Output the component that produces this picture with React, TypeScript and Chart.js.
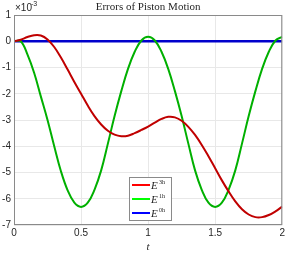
import React, { useEffect, useRef } from "react";
import { Chart, registerables } from "chart.js";

Chart.register(...registerables);

const tValues = [
  0, 0.05, 0.1, 0.15, 0.2, 0.25, 0.3, 0.35, 0.4, 0.45, 0.5,
  0.55, 0.6, 0.65, 0.7, 0.75, 0.8, 0.85, 0.9, 0.95, 1.0,
  1.05, 1.1, 1.15, 1.2, 1.25, 1.3, 1.35, 1.4, 1.45, 1.5,
  1.55, 1.6, 1.65, 1.7, 1.75, 1.8, 1.85, 1.9, 1.95, 2.0,
];

const redValues = [
  0, 0.06, 0.16, 0.23, 0.22, 0.07, -0.22, -0.62, -1.08, -1.55, -2.0,
  -2.45, -2.85, -3.17, -3.41, -3.56, -3.62, -3.6, -3.5, -3.38, -3.25,
  -3.1, -2.96, -2.88, -2.9, -3.03, -3.26, -3.57, -3.95, -4.38, -4.84,
  -5.3, -5.72, -6.1, -6.4, -6.6, -6.7, -6.7, -6.62, -6.48, -6.3,
];

const greenValues = [
  0, 0, -0.5, -1.2, -2.1, -3.0, -4.0, -4.95, -5.68, -6.15, -6.31,
  -6.15, -5.66, -4.92, -3.9, -2.85, -1.9, -1.05, -0.4, 0.03, 0.17,
  0.03, -0.4, -1.05, -1.9, -2.85, -3.9, -4.92, -5.66, -6.15, -6.31,
  -6.15, -5.66, -4.92, -3.9, -2.85, -1.9, -1.05, -0.4, 0.03, 0.17,
];

const blueValues = tValues.map(() => 0);

const seriesLabels = ["3h", "1h", "0h"];
const xTicks = [0, 0.5, 1, 1.5, 2];
const yTicks = [1, 0, -1, -2, -3, -4, -5, -6, -7];

const lineColors = ["#c00000", "#00b000", "#0000cc"];
const legendColors = ["#ff0000", "#00ff00", "#0000ff"];

export default function App() {
  const ref = useRef<HTMLCanvasElement | null>(null);

  useEffect(() => {
    document.body.style.margin = "0";
    const canvas = ref.current;
    if (!canvas) return;

    const mk = (vals: number[]) => tValues.map((t, i) => ({ x: t, y: vals[i] }));

    const decorPlugin = {
      id: "decor",
      afterDraw(chart: any) {
        const ctx = chart.ctx;
        const a = chart.chartArea;
        ctx.save();
        ctx.strokeStyle = "#8a8a8a";
        ctx.lineWidth = 1;
        ctx.strokeRect(a.left + 0.5, a.top + 0.5, a.right - a.left - 1, a.bottom - a.top - 1);
        ctx.fillStyle = "#262626";
        ctx.font = "11px 'Liberation Serif', serif";
        ctx.textAlign = "center";
        ctx.textBaseline = "middle";
        ctx.fillText("Errors of Piston Motion", (a.left + a.right) / 2, 7);
        ctx.font = "10px 'Liberation Sans', Arial, sans-serif";
        ctx.textAlign = "left";
        ctx.fillText("\u00d710", a.left + 1, 8);
        ctx.font = "7px 'Liberation Sans', Arial, sans-serif";
        ctx.fillText("-3", a.left + 17, 4);
        ctx.font = "italic 11px 'Liberation Serif', serif";
        ctx.textAlign = "center";
        ctx.fillText("t", (a.left + a.right) / 2, 247);
        const lx = 129, ly = 177, lw = 42, lh = 43;
        ctx.fillStyle = "#ffffff";
        ctx.fillRect(lx, ly, lw, lh);
        ctx.strokeStyle = "#8a8a8a";
        ctx.strokeRect(lx + 0.5, ly + 0.5, lw, lh);
        for (let i = 0; i < 3; i++) {
          const y = ly + 8 + i * 14;
          ctx.strokeStyle = legendColors[i];
          ctx.lineWidth = 2;
          ctx.beginPath();
          ctx.moveTo(lx + 3, y);
          ctx.lineTo(lx + 21, y);
          ctx.stroke();
          ctx.fillStyle = "#262626";
          ctx.font = "italic 11px 'Liberation Serif', serif";
          ctx.textAlign = "left";
          ctx.textBaseline = "middle";
          ctx.fillText("E", lx + 22, y + 1);
          ctx.font = "6px 'Liberation Serif', serif";
          ctx.fillText(seriesLabels[i], lx + 30, y - 3);
        }
        ctx.restore();
      },
    };

    const chart = new Chart(canvas, {
      type: "line",
      data: {
        datasets: [
          { label: "E" + seriesLabels[0], data: mk(redValues), borderColor: lineColors[0], borderWidth: 2, pointRadius: 0, tension: 0.4, fill: false },
          { label: "E" + seriesLabels[1], data: mk(greenValues), borderColor: lineColors[1], borderWidth: 2, pointRadius: 0, tension: 0.4, fill: false },
          { label: "E" + seriesLabels[2], data: mk(blueValues), borderColor: lineColors[2], borderWidth: 2.5, pointRadius: 0, tension: 0, fill: false },
        ],
      },
      options: {
        animation: false,
        responsive: false,
        layout: { padding: { top: 15, right: 3, left: 0, bottom: 0 } },
        plugins: { legend: { display: false }, tooltip: { enabled: false }, title: { display: false } },
        scales: {
          x: {
            type: "linear",
            min: 0,
            max: 2,
            afterBuildTicks: (s: any) => { s.ticks = xTicks.map((v) => ({ value: v })); },
            afterFit: (s: any) => { s.height = 30; },
            ticks: {
              color: "#262626",
              font: { family: "'Liberation Sans', Arial, sans-serif", size: 10 },
              padding: 2,
              maxRotation: 0,
              callback: (v: any) => String(v),
            },
            grid: { color: "#e8e8e8", drawTicks: false },
            border: { display: false },
          },
          y: {
            type: "linear",
            min: -7,
            max: 1,
            afterBuildTicks: (s: any) => { s.ticks = yTicks.map((v) => ({ value: v })); },
            afterFit: (s: any) => { s.width = 14; },
            ticks: {
              color: "#262626",
              font: { family: "'Liberation Sans', Arial, sans-serif", size: 10 },
              padding: 3,
              callback: (v: any) => String(v),
            },
            grid: { color: "#e8e8e8", drawTicks: false },
            border: { display: false },
          },
        },
      },
      plugins: [decorPlugin],
    });

    return () => chart.destroy();
  }, []);

  return (
    <div style={{ width: 287, height: 255, background: "#fff" }}>
      <canvas ref={ref} width={287} height={255} style={{ display: "block" }} />
    </div>
  );
}
